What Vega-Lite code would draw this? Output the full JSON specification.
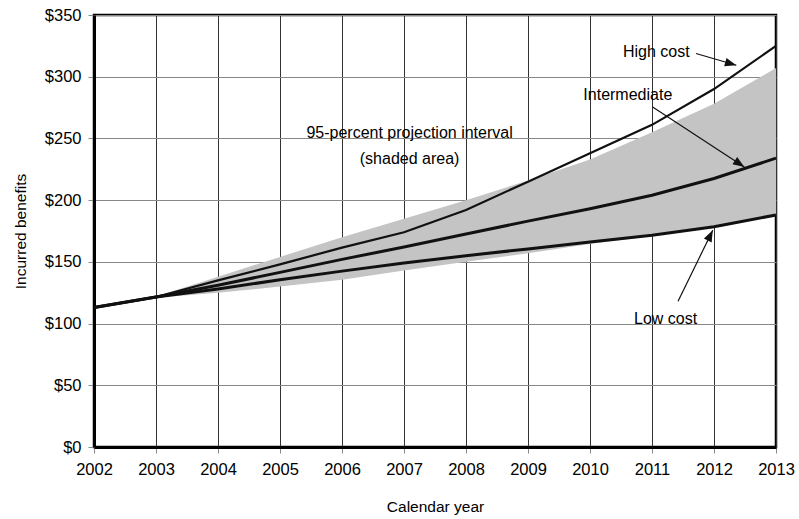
{
  "$schema": "https://vega.github.io/schema/vega-lite/v6.json",
  "autosize": "none",
  "width": 682,
  "height": 432,
  "padding": {"left": 94, "top": 15, "right": 23, "bottom": 72},
  "background": "white",
  "config": {
    "font": "Liberation Sans",
    "view": {"stroke": "black", "strokeWidth": 2.5},
    "axis": {
      "labelFont": "Liberation Sans",
      "titleFont": "Liberation Sans",
      "labelFontSize": 16.5,
      "titleFontSize": 15.5,
      "titleFontWeight": "normal",
      "labelColor": "black",
      "titleColor": "black",
      "domainColor": "black",
      "domainWidth": 3,
      "tickColor": "#888888",
      "tickSize": 6,
      "gridOpacity": 1,
      "labelFlush": false,
      "labelOverlap": false
    }
  },
  "datasets": {
    "series": [
      {"year": 2002, "low": 113, "mid": 113, "high": 113, "lo95": 112.5, "hi95": 113.5},
      {"year": 2003, "low": 121.5, "mid": 121.5, "high": 121.5, "lo95": 121, "hi95": 122},
      {"year": 2004, "low": 128, "mid": 131, "high": 135, "lo95": 125, "hi95": 138},
      {"year": 2005, "low": 135.5, "mid": 141.5, "high": 148, "lo95": 130, "hi95": 154},
      {"year": 2006, "low": 142.5, "mid": 152, "high": 161.5, "lo95": 135.5, "hi95": 170},
      {"year": 2007, "low": 149, "mid": 162, "high": 174, "lo95": 143, "hi95": 185},
      {"year": 2008, "low": 155, "mid": 172.5, "high": 192, "lo95": 150, "hi95": 200},
      {"year": 2009, "low": 160.5, "mid": 183, "high": 215, "lo95": 157, "hi95": 216},
      {"year": 2010, "low": 166, "mid": 193, "high": 238, "lo95": 164.5, "hi95": 233},
      {"year": 2011, "low": 171.5, "mid": 204, "high": 261, "lo95": 171, "hi95": 255},
      {"year": 2012, "low": 178.5, "mid": 217.5, "high": 290, "lo95": 178.5, "hi95": 278},
      {"year": 2013, "low": 188, "mid": 234, "high": 325, "lo95": 187.5, "hi95": 307}
    ],
    "notes": [
      {"name": "High cost", "tx": 2011.07, "ty": 320, "ax1": 2011.71, "ay1": 318.8, "ax2": 2012.36, "ay2": 309.3},
      {"name": "Intermediate", "tx": 2010.61, "ty": 285, "ax1": 2011.01, "ay1": 275.5, "ax2": 2012.49, "ay2": 226.9},
      {"name": "Low cost", "tx": 2011.22, "ty": 103.5, "ax1": 2011.42, "ay1": 118.1, "ax2": 2011.98, "ay2": 175.6}
    ],
    "band_label": [
      {"tx": 2007.09, "ty": 254, "label": "95-percent projection interval"},
      {"tx": 2007.09, "ty": 233, "label": "(shaded area)"}
    ]
  },
  "layer": [
    {
      "data": {"name": "series"},
      "mark": {"type": "area", "color": "#c4c4c4", "opacity": 1},
      "encoding": {
        "x": {
          "field": "year", "type": "quantitative",
          "scale": {"domain": [2002, 2013], "nice": false, "zero": false},
          "axis": {
            "title": "Calendar year",
            "values": [2002, 2003, 2004, 2005, 2006, 2007, 2008, 2009, 2010, 2011, 2012, 2013],
            "format": "d",
            "grid": true,
            "gridColor": "#333333",
            "gridWidth": 1,
            "labelPadding": 8,
            "titlePadding": 22
          }
        },
        "y": {
          "field": "lo95", "type": "quantitative",
          "scale": {"domain": [0, 350], "nice": false},
          "axis": {
            "title": "Incurred benefits",
            "values": [0, 50, 100, 150, 200, 250, 300, 350],
            "format": "$.0f",
            "grid": true,
            "gridColor": "#888888",
            "gridWidth": 1,
            "labelPadding": 7,
            "titlePadding": 16
          }
        },
        "y2": {"field": "hi95"}
      }
    },
    {
      "data": {"name": "series"},
      "mark": {"type": "line", "color": "#111111", "strokeWidth": 3},
      "encoding": {
        "x": {"field": "year", "type": "quantitative"},
        "y": {"field": "low", "type": "quantitative"}
      }
    },
    {
      "data": {"name": "series"},
      "mark": {"type": "line", "color": "#111111", "strokeWidth": 3},
      "encoding": {
        "x": {"field": "year", "type": "quantitative"},
        "y": {"field": "mid", "type": "quantitative"}
      }
    },
    {
      "data": {"name": "series"},
      "mark": {"type": "line", "color": "#111111", "strokeWidth": 2.2},
      "encoding": {
        "x": {"field": "year", "type": "quantitative"},
        "y": {"field": "high", "type": "quantitative"}
      }
    },
    {
      "data": {"name": "notes"},
      "mark": {"type": "rule", "color": "#111111", "strokeWidth": 1.2},
      "encoding": {
        "x": {"field": "ax1", "type": "quantitative"},
        "y": {"field": "ay1", "type": "quantitative"},
        "x2": {"field": "ax2"},
        "y2": {"field": "ay2"}
      }
    },
    {
      "data": {"name": "notes"},
      "transform": [{"filter": "datum.name == 'High cost'"}],
      "mark": {"type": "point", "shape": "M0,0L-0.38,1L0.38,1Z", "filled": true, "color": "#111111", "opacity": 1, "size": 520, "angle": 106},
      "encoding": {
        "x": {"field": "ax2", "type": "quantitative"},
        "y": {"field": "ay2", "type": "quantitative"}
      }
    },
    {
      "data": {"name": "notes"},
      "transform": [{"filter": "datum.name == 'Intermediate'"}],
      "mark": {"type": "point", "shape": "M0,0L-0.38,1L0.38,1Z", "filled": true, "color": "#111111", "opacity": 1, "size": 520, "angle": 123},
      "encoding": {
        "x": {"field": "ax2", "type": "quantitative"},
        "y": {"field": "ay2", "type": "quantitative"}
      }
    },
    {
      "data": {"name": "notes"},
      "transform": [{"filter": "datum.name == 'Low cost'"}],
      "mark": {"type": "point", "shape": "M0,0L-0.38,1L0.38,1Z", "filled": true, "color": "#111111", "opacity": 1, "size": 520, "angle": 26},
      "encoding": {
        "x": {"field": "ax2", "type": "quantitative"},
        "y": {"field": "ay2", "type": "quantitative"}
      }
    },
    {
      "data": {"name": "notes"},
      "mark": {"type": "text", "font": "Liberation Sans", "fontSize": 16, "color": "black", "align": "center", "baseline": "middle"},
      "encoding": {
        "x": {"field": "tx", "type": "quantitative"},
        "y": {"field": "ty", "type": "quantitative"},
        "text": {"field": "name"}
      }
    },
    {
      "data": {"name": "band_label"},
      "mark": {"type": "text", "font": "Liberation Sans", "fontSize": 16, "color": "black", "align": "center", "baseline": "middle"},
      "encoding": {
        "x": {"field": "tx", "type": "quantitative"},
        "y": {"field": "ty", "type": "quantitative"},
        "text": {"field": "label"}
      }
    }
  ]
}
